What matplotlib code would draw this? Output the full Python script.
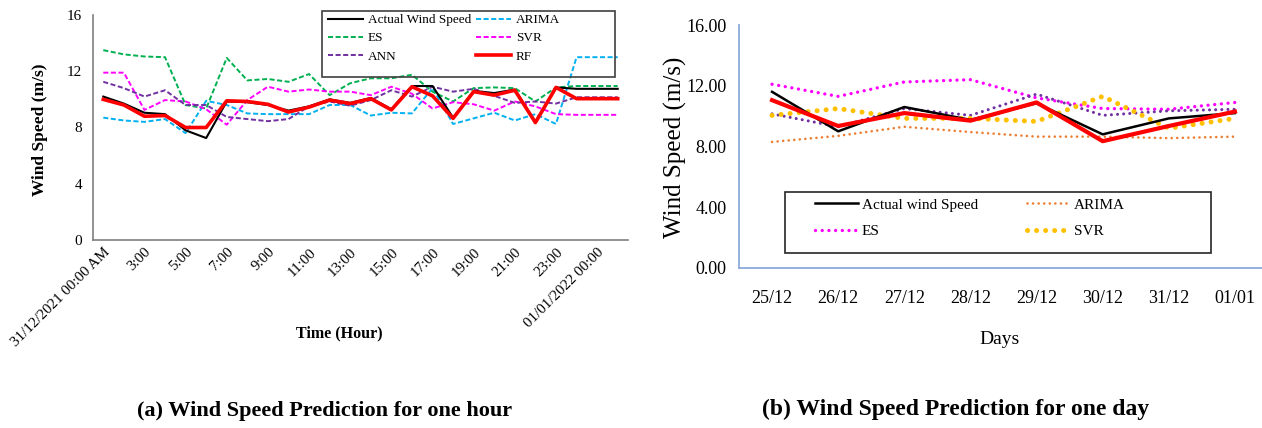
import matplotlib
matplotlib.use('Agg')
import matplotlib.pyplot as plt
from matplotlib.patches import Rectangle

plt.rcParams['font.family'] = ['Liberation Serif', 'DejaVu Serif']

# ---- (a) hourly prediction, 26 hourly points ----
hour_labels = ['31/12/2021 00:00 AM', '3:00', '5:00', '7:00', '9:00', '11:00', '13:00',
               '15:00', '17:00', '19:00', '21:00', '23:00', '01/01/2022 00:00']
actual_h = [10.2, 9.7, 9.05, 8.95, 7.8, 7.25, 9.85, 9.8, 9.6, 9.2, 9.5, 10.0, 9.75,
            10.1, 9.3, 10.95, 10.95, 8.7, 10.6, 10.45, 10.7, 8.4, 10.85, 10.75, 10.75, 10.75]
arima_h = [8.7, 8.5, 8.4, 8.6, 7.6, 9.9, 9.6, 9.0, 8.95, 8.95, 8.95, 9.6, 9.6,
           8.85, 9.05, 9.0, 10.8, 8.25, 8.65, 9.05, 8.5, 8.95, 8.25, 13.0, 13.0, 13.0]
es_h = [13.5, 13.2, 13.05, 13.0, 9.6, 9.35, 12.95, 11.35, 11.45, 11.25, 11.8, 10.3, 11.15,
        11.5, 11.5, 11.75, 10.55, 9.85, 10.8, 10.85, 10.8, 9.85, 10.85, 10.95, 10.95, 10.95]
svr_h = [11.9, 11.9, 9.25, 9.95, 9.85, 9.3, 8.2, 9.95, 10.9, 10.55, 10.7, 10.55, 10.55,
         10.3, 10.9, 10.4, 9.35, 9.8, 9.65, 9.2, 9.85, 9.5, 8.95, 8.9, 8.9, 8.9]
ann_h = [11.25, 10.8, 10.2, 10.65, 9.6, 9.6, 8.75, 8.6, 8.45, 8.6, 9.5, 9.85, 9.55,
         9.95, 10.65, 10.2, 10.9, 10.55, 10.75, 10.25, 9.75, 9.85, 9.7, 10.15, 10.15, 10.15]
rf_h = [10.0, 9.6, 8.8, 8.85, 8.0, 8.0, 9.9, 9.85, 9.65, 9.1, 9.45, 9.95, 9.7,
        10.05, 9.25, 10.9, 10.25, 8.65, 10.55, 10.3, 10.65, 8.35, 10.85, 10.05, 10.05, 10.05]

# ---- (b) daily prediction ----
days = ['25/12', '26/12', '27/12', '28/12', '29/12', '30/12', '31/12', '01/01']
actual_d = [11.6, 9.0, 10.6, 9.75, 10.85, 8.8, 9.85, 10.2]
arima_d = [8.3, 8.7, 9.3, 8.95, 8.65, 8.65, 8.55, 8.65]
es_d = [12.1, 11.3, 12.25, 12.4, 11.2, 10.5, 10.45, 10.9]
svr_d = [10.05, 10.5, 9.85, 9.85, 9.65, 11.3, 9.2, 9.85]
ann_d = [10.15, 9.3, 10.5, 10.05, 11.45, 10.05, 10.35, 10.45]
rf_d = [11.05, 9.35, 10.2, 9.7, 10.9, 8.35, 9.35, 10.3]

W, H = 1262, 428
def fx(x): return x / W
def fy(y): return 1 - y / H

fig = plt.figure(figsize=(12.62, 4.28), dpi=100)

# ================= left chart =================
ax1 = fig.add_axes([fx(93), fy(240), fx(628) - fx(93), fy(15) - fy(240)])
xh = range(len(actual_h))
dash = (0, (2.6, 1.3))
l_act, = ax1.plot(xh, actual_h, color='black', lw=1.5, zorder=4)
l_ari, = ax1.plot(xh, arima_h, color='#00b0f0', lw=1.4, ls=dash)
l_es, = ax1.plot(xh, es_h, color='#00b050', lw=1.4, ls=dash)
l_svr, = ax1.plot(xh, svr_h, color='#ff00ff', lw=1.4, ls=dash)
l_ann, = ax1.plot(xh, ann_h, color='#7030a0', lw=1.4, ls=dash)
l_rf, = ax1.plot(xh, rf_h, color='#ff0000', lw=2.6, zorder=5)

ax1.set_xlim(-0.5, len(actual_h) - 0.5)
ax1.set_ylim(0, 16)
ax1.set_yticks([0, 4, 8, 12, 16])
ax1.set_xticks(range(0, len(actual_h), 2))
ax1.set_xticklabels(hour_labels, rotation=45, ha='right', rotation_mode='anchor', fontsize=10.8)
ax1.tick_params(axis='x', length=0, pad=4)
ax1.tick_params(axis='y', length=0, pad=8, labelsize=11)
for s in ['top', 'right']:
    ax1.spines[s].set_visible(False)
for s in ['left', 'bottom']:
    ax1.spines[s].set_color('#7f7f7f')
    ax1.spines[s].set_linewidth(1.2)

fig.text(fx(40), fy(130), 'Wind Speed (m/s)', rotation=90, ha='center', va='center',
         fontsize=12.5, fontweight='bold')
fig.text(fx(339), fy(333), 'Time (Hour)', ha='center', va='center', fontsize=11.5, fontweight='bold')
fig.text(fx(325), fy(411), '(a) Wind Speed Prediction for one hour', ha='center', va='center',
         fontsize=16, fontweight='bold')

# legend frame is transparent: the ARIMA line shows through it
fig.add_artist(Rectangle((fx(322), fy(77)), fx(615) - fx(322), fy(11) - fy(77),
                         transform=fig.transFigure, facecolor='none', edgecolor='#404040',
                         lw=1.2, zorder=4))
fig.legend([l_act, l_es, l_ann, l_ari, l_svr, l_rf],
           ['Actual Wind Speed', 'ES', 'ANN', 'ARIMA', 'SVR', 'RF'],
           loc='upper left', bbox_to_anchor=(fx(328), fy(14)), bbox_transform=fig.transFigure,
           ncol=2, frameon=False, borderpad=0, borderaxespad=0, fontsize=9.5,
           handlelength=2.65, handletextpad=0.38, columnspacing=0.35, labelspacing=0.45)

# ================= right chart =================
ax2 = fig.add_axes([fx(739), fy(268), fx(1268) - fx(739), fy(25) - fy(268)])
xd = range(len(days))
l2_ari, = ax2.plot(xd, arima_d, color='#ed7d31', lw=1.9, ls=(0, (0.01, 2.1)), dash_capstyle='round')
l2_es, = ax2.plot(xd, es_d, color='#ff00ff', lw=2.4, ls=(0, (0.01, 2.0)), dash_capstyle='round')
l2_ann, = ax2.plot(xd, ann_d, color='#7030a0', lw=2.2, ls=(0, (0.01, 2.0)), dash_capstyle='round')
l2_svr, = ax2.plot(xd, svr_d, color='#ffc000', lw=3.6, ls=(0, (0.01, 1.8)), dash_capstyle='round')
l2_act, = ax2.plot(xd, actual_d, color='black', lw=1.8, zorder=4)
l2_rf, = ax2.plot(xd, rf_d, color='#ff0000', lw=3.0, zorder=5)

ax2.set_xlim(-0.5, len(days) - 0.5)
ax2.set_ylim(0, 16)
ax2.set_yticks([0, 4, 8, 12, 16])
ax2.set_yticklabels(['%.2f' % v for v in [0, 4, 8, 12, 16]])
ax2.set_xticks(list(xd))
ax2.set_xticklabels(days)
ax2.tick_params(axis='x', length=0, pad=16, labelsize=13)
ax2.tick_params(axis='y', length=0, pad=9, labelsize=13)
for s in ['top', 'right']:
    ax2.spines[s].set_visible(False)
for s in ['left', 'bottom']:
    ax2.spines[s].set_color('#8eaadb')
    ax2.spines[s].set_linewidth(1.3)

fig.text(fx(675), fy(147), 'Wind Speed (m/s)', rotation=90, ha='center', va='center', fontsize=18)
fig.text(fx(1000), fy(339), 'Days', ha='center', va='center', fontsize=14)
fig.text(fx(956), fy(409), '(b) Wind Speed Prediction for one day', ha='center', va='center',
         fontsize=17, fontweight='bold')

fig.add_artist(Rectangle((fx(785), fy(253)), fx(1211) - fx(785), fy(192) - fy(253),
                         transform=fig.transFigure, facecolor='white', edgecolor='#262626',
                         lw=1.2, zorder=4))
fig.legend([l2_act, l2_es, l2_ari, l2_svr],
           ['Actual wind Speed', 'ES', 'ARIMA', 'SVR'],
           loc='upper left', bbox_to_anchor=(fx(815), fy(198)), bbox_transform=fig.transFigure,
           ncol=2, frameon=False, borderpad=0, borderaxespad=0, fontsize=11,
           handlelength=2.8, handletextpad=0.27, columnspacing=3.2, labelspacing=0.85)

fig.savefig('out.png', dpi=100)
